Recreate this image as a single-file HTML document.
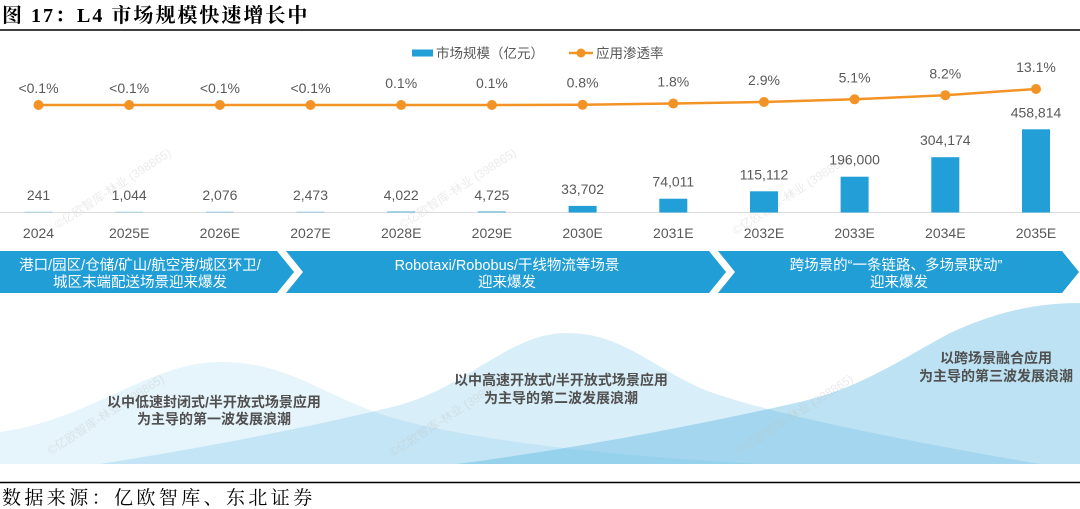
<!DOCTYPE html>
<html>
<head>
<meta charset="utf-8">
<style>
  html,body{margin:0;padding:0;background:#fff;}
  body{width:1080px;height:509px;overflow:hidden;position:relative;}
  svg{display:block;}
  .sans{font-family:"Liberation Sans","Noto Sans CJK SC",sans-serif;}
  .serif{font-family:"Liberation Serif","Noto Serif CJK SC",serif;}
</style>
</head>
<body>
<svg width="1080" height="509" viewBox="0 0 1080 509" xmlns="http://www.w3.org/2000/svg">
  <!-- Title -->
  <text x="2" y="22" class="serif" font-size="20" font-weight="bold" letter-spacing="2" fill="#000">图 17：L4 市场规模快速增长中</text>
  <line x1="0" y1="30" x2="1080" y2="30" stroke="#000" stroke-width="1.5"/>

  <!-- Waves -->
  <g>
    <path d="M0,432 C90,420 150,362 220,362 C290,362 320,395 390,417 C470,440 600,455 760,464 L0,464 Z" fill="#4fb3e0" fill-opacity="0.14"/>
    <path d="M100,464 C220,445 320,425 400,405 C470,385 510,333 567,333 C620,333 650,365 700,388 C760,412 900,440 1040,464 Z" fill="#4fb3e0" fill-opacity="0.22"/>
    <path d="M457,464 C600,445 720,420 800,402 C860,388 900,360 950,333 C1000,310 1040,303 1080,303 L1080,464 Z" fill="#4fb3e0" fill-opacity="0.38"/>
  </g>

  <!-- Watermarks -->
  <g class="sans" font-size="12" fill="#bdbdbd" fill-opacity="0.3" text-anchor="middle">
    <text transform="translate(115,192) rotate(-33)">©亿欧智库-林业 (398865)</text>
    <text transform="translate(460,192) rotate(-33)">©亿欧智库-林业 (398865)</text>
    <text transform="translate(793,198) rotate(-33)">©亿欧智库-林业 (398865)</text>
    <text transform="translate(108,418) rotate(-33)">©亿欧智库-林业 (398865)</text>
    <text transform="translate(450,420) rotate(-33)">©亿欧智库-林业 (398865)</text>
    <text transform="translate(797,418) rotate(-33)">©亿欧智库-林业 (398865)</text>
  </g>

  <!-- Legend -->
  <rect x="412" y="49.5" width="21" height="7" fill="#229fd7"/>
  <text x="436" y="58" class="sans" font-size="13.5" fill="#595959">市场规模（亿元）</text>
  <line x1="569" y1="53" x2="593" y2="53" stroke="#f39325" stroke-width="2.5"/>
  <circle cx="581" cy="53" r="4.5" fill="#f39325"/>
  <text x="596" y="58" class="sans" font-size="13.5" fill="#595959">应用渗透率</text>

  <!-- Baseline -->
  <line x1="0" y1="212.5" x2="1080" y2="212.5" stroke="#dcdcdc" stroke-width="1"/>

  <!-- Bars -->
  <g fill="#229fd7">
    <rect x="24.5" y="211.5" width="28" height="1" fill-opacity="0.3"/>
    <rect x="115.2" y="211.5" width="28" height="1" fill-opacity="0.3"/>
    <rect x="205.9" y="211.5" width="28" height="1" fill-opacity="0.4"/>
    <rect x="296.5" y="211.5" width="28" height="1" fill-opacity="0.4"/>
    <rect x="387.2" y="211.3" width="28" height="1.2" fill-opacity="0.6"/>
    <rect x="477.9" y="211.2" width="28" height="1.3" fill-opacity="0.6"/>
    <rect x="568.6" y="205.9" width="28" height="6.6"/>
    <rect x="659.3" y="198.7" width="28" height="13.8"/>
    <rect x="750" y="191.3" width="28" height="21.2"/>
    <rect x="840.6" y="176.7" width="28" height="35.8"/>
    <rect x="931.3" y="157.2" width="28" height="55.3"/>
    <rect x="1022" y="129.3" width="28" height="83.2"/>
  </g>

  <!-- Bar values -->
  <g class="sans" font-size="14" fill="#595959" text-anchor="middle">
    <text x="38.5" y="200">241</text>
    <text x="129.2" y="200">1,044</text>
    <text x="219.9" y="200">2,076</text>
    <text x="310.5" y="200">2,473</text>
    <text x="401.2" y="200">4,022</text>
    <text x="491.9" y="200">4,725</text>
    <text x="582.6" y="194">33,702</text>
    <text x="673.3" y="186.7">74,011</text>
    <text x="764" y="179.3">115,112</text>
    <text x="854.6" y="164.7">196,000</text>
    <text x="945.3" y="145.2">304,174</text>
    <text x="1036" y="117.3">458,814</text>
  </g>

  <!-- Year labels -->
  <g class="sans" font-size="14" fill="#595959" text-anchor="middle">
    <text x="38.5" y="238">2024</text>
    <text x="129.2" y="238">2025E</text>
    <text x="219.9" y="238">2026E</text>
    <text x="310.5" y="238">2027E</text>
    <text x="401.2" y="238">2028E</text>
    <text x="491.9" y="238">2029E</text>
    <text x="582.6" y="238">2030E</text>
    <text x="673.3" y="238">2031E</text>
    <text x="764" y="238">2032E</text>
    <text x="854.6" y="238">2033E</text>
    <text x="945.3" y="238">2034E</text>
    <text x="1036" y="238">2035E</text>
  </g>

  <!-- Line series -->
  <polyline fill="none" stroke="#f39325" stroke-width="2.5"
    points="38.5,105 129.2,105 219.9,105 310.5,105 401.2,105 491.9,105 582.6,104.8 673.3,103.5 764,102 854.6,99.3 945.3,95.2 1036,89"/>
  <g fill="#f39325">
    <circle cx="38.5" cy="105" r="5"/>
    <circle cx="129.2" cy="105" r="5"/>
    <circle cx="219.9" cy="105" r="5"/>
    <circle cx="310.5" cy="105" r="5"/>
    <circle cx="401.2" cy="105" r="5"/>
    <circle cx="491.9" cy="105" r="5"/>
    <circle cx="582.6" cy="104.8" r="5"/>
    <circle cx="673.3" cy="103.5" r="5"/>
    <circle cx="764" cy="102" r="5"/>
    <circle cx="854.6" cy="99.3" r="5"/>
    <circle cx="945.3" cy="95.2" r="5"/>
    <circle cx="1036" cy="89" r="5"/>
  </g>
  <g class="sans" font-size="14" fill="#595959" text-anchor="middle">
    <text x="38.5" y="93">&lt;0.1%</text>
    <text x="129.2" y="93">&lt;0.1%</text>
    <text x="219.9" y="93">&lt;0.1%</text>
    <text x="310.5" y="93">&lt;0.1%</text>
    <text x="401.2" y="88">0.1%</text>
    <text x="491.9" y="88">0.1%</text>
    <text x="582.6" y="87.5">0.8%</text>
    <text x="673.3" y="86.5">1.8%</text>
    <text x="764" y="85.2">2.9%</text>
    <text x="854.6" y="82.5">5.1%</text>
    <text x="945.3" y="78.4">8.2%</text>
    <text x="1036" y="72">13.1%</text>
  </g>

  <!-- Arrow bands -->
  <g fill="#219ed6">
    <polygon points="0,251 277,251 294,272 277,293 0,293"/>
    <polygon points="286,251 709,251 726,272 709,293 286,293 303,272"/>
    <polygon points="718,251 1062,251 1079,272 1062,293 718,293 735,272"/>
  </g>
  <g class="sans" font-size="14.5" fill="#fff" text-anchor="middle">
    <text x="140" y="270">港口/园区/仓储/矿山/航空港/城区环卫/</text>
    <text x="140" y="287">城区末端配送场景迎来爆发</text>
    <text x="507" y="270">Robotaxi/Robobus/干线物流等场景</text>
    <text x="507" y="287">迎来爆发</text>
    <text x="896" y="270">跨场景的“一条链路、多场景联动”</text>
    <text x="899" y="287">迎来爆发</text>
  </g>

  <!-- Wave texts -->
  <g class="sans" font-size="14" font-weight="bold" fill="#505050" text-anchor="middle">
    <text x="214" y="407">以中低速封闭式/半开放式场景应用</text>
    <text x="214" y="424">为主导的第一波发展浪潮</text>
    <text x="561" y="385">以中高速开放式/半开放式场景应用</text>
    <text x="561" y="403">为主导的第二波发展浪潮</text>
    <text x="996" y="363">以跨场景融合应用</text>
    <text x="996" y="381">为主导的第三波发展浪潮</text>
  </g>

  <!-- Footer -->
  <line x1="0" y1="482.5" x2="1080" y2="482.5" stroke="#000" stroke-width="1.5"/>
  <text x="2" y="504" class="serif" font-size="19" letter-spacing="3.4" fill="#000">数据来源：亿欧智库、东北证券</text>
</svg>
</body>
</html>
